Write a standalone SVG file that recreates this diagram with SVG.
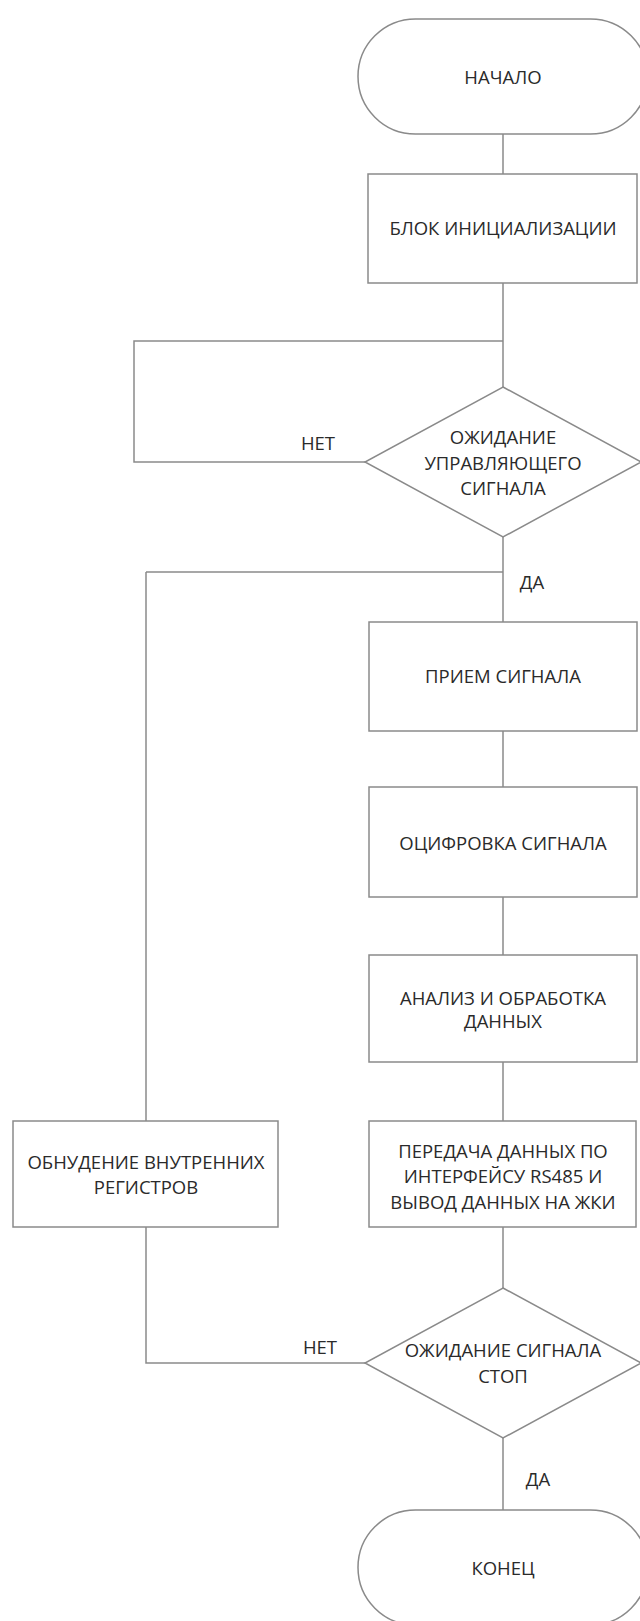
<svg xmlns="http://www.w3.org/2000/svg" width="640" height="1621" viewBox="0 0 640 1621">
<style>
.s{fill:#fff;stroke:#8a8a8a;stroke-width:1.5}
.c{fill:none;stroke:#8a8a8a;stroke-width:1.5}
.t{font-family:"Open Sans","Liberation Sans",sans-serif;font-size:18.5px;fill:#2a2a2a;text-anchor:middle}
.l{font-family:"Open Sans","Liberation Sans",sans-serif;font-size:18.5px;fill:#2a2a2a;text-anchor:middle}
</style>
<rect width="640" height="1621" fill="#fff"/>
<g id="connectors">
<path class="c" d="M503 134V174M503 283V387M365 462H134V341H503M503 537V622M146 572H503M503 731V787M503 897V955M503 1062V1121M503 1227V1288M365 1363H146V1227M146 1121V572M503 1438V1510"/>
</g>
<g id="start"><rect class="s" x="358" y="19" width="290" height="115" rx="57.5"/><text class="t" x="503" y="84">НАЧАЛО</text></g>
<g id="init"><rect class="s" x="368" y="174" width="269" height="109"/><text class="t" x="503" y="235">БЛОК ИНИЦИАЛИЗАЦИИ</text></g>
<g id="wait1"><polygon class="s" points="503,387 641,462 503,537 365,462"/><text class="t" x="503" y="444">ОЖИДАНИЕ</text><text class="t" x="503" y="470">УПРАВЛЯЮЩЕГО</text><text class="t" x="503" y="495">СИГНАЛА</text></g>
<g id="recv"><rect class="s" x="369" y="622" width="268" height="109"/><text class="t" x="503" y="683">ПРИЕМ СИГНАЛА</text></g>
<g id="digit"><rect class="s" x="369" y="787" width="268" height="110"/><text class="t" x="503" y="850">ОЦИФРОВКА СИГНАЛА</text></g>
<g id="analyze"><rect class="s" x="369" y="955" width="268" height="107"/><text class="t" x="503" y="1005">АНАЛИЗ И ОБРАБОТКА</text><text class="t" x="503" y="1028">ДАННЫХ</text></g>
<g id="send"><rect class="s" x="369" y="1121" width="267" height="106"/><text class="t" x="503" y="1158">ПЕРЕДАЧА ДАННЫХ ПО</text><text class="t" x="503" y="1183">ИНТЕРФЕЙСУ RS485 И</text><text class="t" x="503" y="1209">ВЫВОД ДАННЫХ НА ЖКИ</text></g>
<g id="reset"><rect class="s" x="13" y="1121" width="265" height="106"/><text class="t" x="146" y="1169">ОБНУДЕНИЕ ВНУТРЕННИХ</text><text class="t" x="146" y="1194">РЕГИСТРОВ</text></g>
<g id="wait2"><polygon class="s" points="503,1288 641,1363 503,1438 365,1363"/><text class="t" x="503" y="1357">ОЖИДАНИЕ СИГНАЛА</text><text class="t" x="503" y="1383">СТОП</text></g>
<g id="end"><rect class="s" x="358" y="1510" width="290" height="115" rx="57.5"/><text class="t" x="503" y="1575">КОНЕЦ</text></g>
<g id="labels">
<text class="l" x="318" y="450">НЕТ</text>
<text class="l" x="532" y="589">ДА</text>
<text class="l" x="320" y="1354">НЕТ</text>
<text class="l" x="538" y="1486">ДА</text>
</g>
</svg>
